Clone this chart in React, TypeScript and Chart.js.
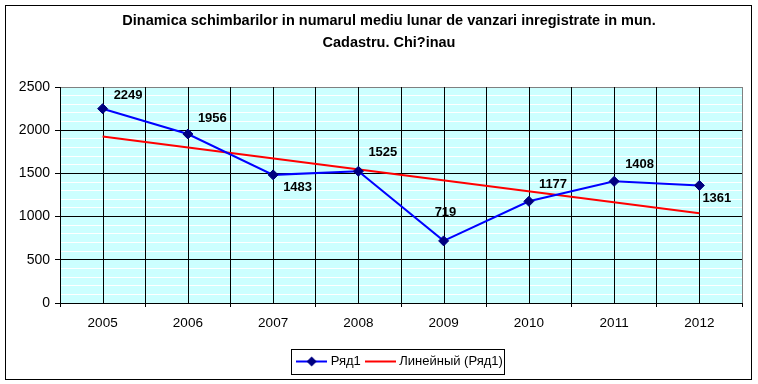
import { useEffect, useRef } from 'react';
import { Chart, registerables } from 'chart.js';

Chart.register(...registerables);

const categories = ['2005', '2006', '2007', '2008', '2009', '2010', '2011', '2012'];
const seriesValues = [2249, 1956, 1483, 1525, 719, 1177, 1408, 1361];
const trendValues: (number | null)[] = [1928, null, null, null, null, null, null, 1038];
const yTickLabels = [0, 500, 1000, 1500, 2000, 2500];
const titleLines = [
  'Dinamica schimbarilor in numarul mediu lunar de vanzari inregistrate in mun.',
  'Cadastru. Chi?inau',
];
const seriesName = 'Ряд1';
const trendName = 'Линейный (Ряд1)';

// label placement relative to each point (style only)
const labelOffsets = [
  [11, -13], [10, -16], [10, 13], [10, -19], [-9, -28], [10, -17], [11, -17], [3, 13],
];

const FONT = "'Liberation Sans', Arial, sans-serif";

function makeLegendImage(color: string, marker: boolean) {
  const c = document.createElement('canvas');
  c.width = 31;
  c.height = 13;
  const g = c.getContext('2d')!;
  g.strokeStyle = color;
  g.lineWidth = 2;
  g.beginPath();
  g.moveTo(0, 6.5);
  g.lineTo(31, 6.5);
  g.stroke();
  if (marker) {
    g.fillStyle = '#000080';
    g.beginPath();
    g.moveTo(15.5 - 5, 6.5);
    g.lineTo(15.5, 6.5 - 5);
    g.lineTo(15.5 + 5, 6.5);
    g.lineTo(15.5, 6.5 + 5);
    g.closePath();
    g.fill();
  }
  return c;
}

export default function App() {
  const ref = useRef<HTMLCanvasElement>(null);

  useEffect(() => {
    if (!ref.current) return;
    const img1 = makeLegendImage('#0000FF', true);
    const img2 = makeLegendImage('#FF0000', false);

    const decor = {
      id: 'decor',
      afterLayout(chart: any) {
        const t = chart.titleBlock;
        if (t) { t.left += 18; t.right += 18; }
        const l = chart.legend;
        if (l) { l.left += 30; l.right += 30; }
      },
      beforeDraw(chart: any) {
        const { ctx, chartArea: a } = chart;
        ctx.save();
        ctx.fillStyle = '#FFFFFF';
        ctx.fillRect(0, 0, chart.width, chart.height);
        ctx.fillStyle = '#CCFFFF';
        ctx.fillRect(a.left, a.top, a.right - a.left, a.bottom - a.top);
        ctx.restore();
      },
      beforeDatasetsDraw(chart: any) {
        const { ctx, chartArea: a } = chart;
        const xs = chart.scales.x;
        ctx.save();
        ctx.strokeStyle = '#000';
        ctx.lineWidth = 1;
        categories.forEach((_, i) => {
          const px = Math.round(xs.getPixelForValue(i)) + 0.5;
          ctx.beginPath();
          ctx.moveTo(px, a.top);
          ctx.lineTo(px, a.bottom);
          ctx.stroke();
        });
        ctx.restore();
      },
      afterDatasetsDraw(chart: any) {
        const { ctx } = chart;
        const meta = chart.getDatasetMeta(0);
        ctx.save();
        ctx.fillStyle = '#000';
        ctx.font = `bold 13px ${FONT}`;
        ctx.textAlign = 'left';
        ctx.textBaseline = 'middle';
        meta.data.forEach((pt: any, i: number) => {
          const [dx, dy] = labelOffsets[i];
          ctx.fillText(String(seriesValues[i]), pt.x + dx, pt.y + dy);
        });
        ctx.restore();
      },
      afterDraw(chart: any) {
        const { ctx } = chart;
        ctx.save();
        ctx.strokeStyle = '#000';
        ctx.lineWidth = 1;
        ctx.strokeRect(5.5, 5.5, 746, 374);
        const hb = chart.legend?.legendHitBoxes;
        if (hb && hb.length) {
          const first = hb[0];
          const last = hb[hb.length - 1];
          const left = Math.round(first.left - 8) + 0.5;
          const right = Math.round(last.left + last.width + 1) + 0.5;
          const cy = first.top + first.height / 2;
          const top = Math.round(cy - 12.5) + 0.5;
          const bottom = Math.round(cy + 12.5) + 0.5;
          ctx.strokeRect(left, top, right - left, bottom - top);
        }
        ctx.restore();
      },
    };

    const chart = new Chart(ref.current, {
      type: 'line',
      data: {
        labels: categories,
        datasets: [
          {
            label: seriesName,
            data: seriesValues,
            borderColor: '#0000FF',
            borderWidth: 2,
            pointStyle: 'rectRot',
            pointRadius: 5,
            pointBackgroundColor: '#000080',
            pointBorderColor: '#000080',
            pointBorderWidth: 1,
            tension: 0,
          },
          {
            label: trendName,
            data: trendValues,
            borderColor: '#FF0000',
            borderWidth: 2,
            pointRadius: 0,
            spanGaps: true,
            tension: 0,
          },
        ],
      },
      options: {
        responsive: false,
        animation: false,
        events: [],
        layout: { padding: { left: 0, right: 16, top: 0, bottom: 6 } },
        scales: {
          x: {
            type: 'category',
            offset: true,
            grid: {
              offset: true,
              z: -1,
              color: (c: any) => (c.type === 'tick' ? '#000' : '#808080'),
              tickColor: '#000',
              tickLength: 4,
              lineWidth: 1,
            },
            border: { color: '#000', width: 1 },
            ticks: {
              color: '#000',
              font: { family: FONT, size: 13.5 },
              padding: 8,
              maxRotation: 0,
              autoSkip: false,
            },
            afterFit: (s: any) => { s.height = 45; },
          },
          y: {
            min: 0,
            max: 2500,
            grid: {
              z: -2,
              color: (c: any) => {
                const v = Math.round(c.tick?.value ?? 0);
                if (v === 2500) return '#808080';
                return v % 500 === 0 ? '#000' : '#FFFFFF';
              },
              tickColor: (c: any) => {
                const v = Math.round(c.tick?.value ?? 0);
                return v % 500 === 0 ? '#000' : 'rgba(0,0,0,0)';
              },
              tickLength: 5,
              lineWidth: 1,
            },
            border: { color: '#000', width: 1 },
            ticks: {
              stepSize: 100,
              autoSkip: false,
              color: '#000',
              padding: 5,
              font: { family: FONT, size: 14 },
              callback: (v: any) => {
                const n = Math.round(Number(v));
                return yTickLabels.includes(n) ? String(n) : '';
              },
            },
            afterFit: (s: any) => { s.width = 60; },
          },
        },
        plugins: {
          title: {
            display: true,
            text: titleLines,
            color: '#000',
            font: { family: FONT, size: 14.5, weight: 'bold', lineHeight: '22px' },
            padding: { top: 10, bottom: 33 },
          },
          legend: {
            display: true,
            position: 'bottom',
            labels: {
              usePointStyle: true,
              pointStyleWidth: 25,
              padding: 7,
              color: '#000',
              font: { family: FONT, size: 13 },
              generateLabels: () => [
                { text: seriesName, pointStyle: img1, fillStyle: '#0000FF', strokeStyle: '#0000FF', lineWidth: 0, datasetIndex: 0, hidden: false, fontColor: '#000' },
                { text: trendName, pointStyle: img2, fillStyle: '#FF0000', strokeStyle: '#FF0000', lineWidth: 0, datasetIndex: 1, hidden: false, fontColor: '#000' },
              ] as any,
            },
          },
          tooltip: { enabled: false },
        },
      } as any,
      plugins: [decor],
    });

    return () => chart.destroy();
  }, []);

  return (
    <div style={{ position: 'fixed', left: 0, top: 0, width: 758, height: 384, background: '#fff' }}>
      <canvas ref={ref} width={758} height={384} style={{ display: 'block' }} />
    </div>
  );
}
